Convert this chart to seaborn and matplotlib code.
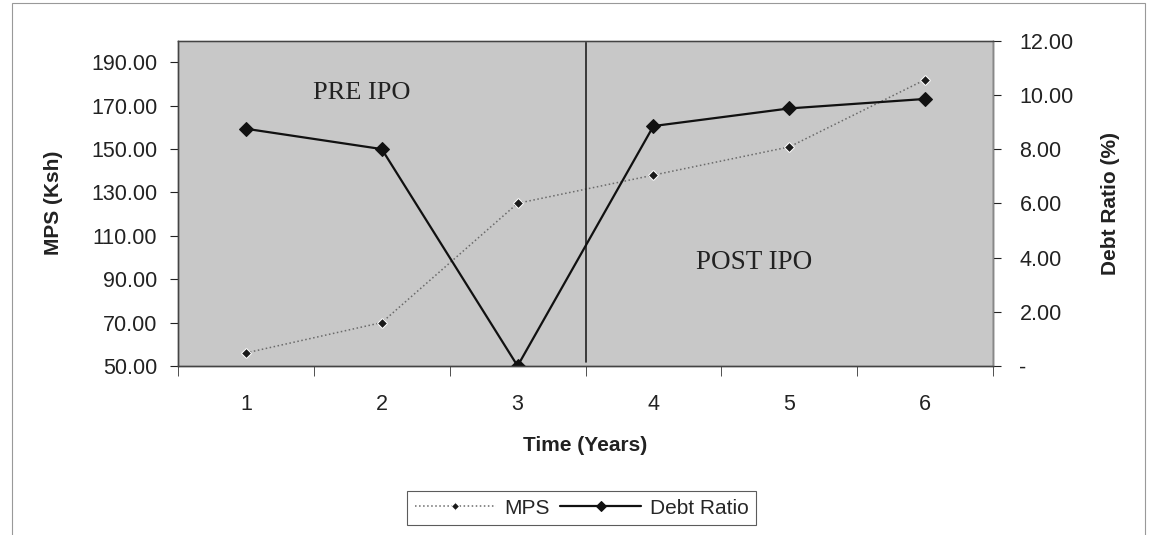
import matplotlib
matplotlib.use("Agg")
import matplotlib.pyplot as plt
import seaborn as sns
import pandas as pd
from matplotlib.ticker import FuncFormatter, MultipleLocator
from matplotlib.patches import Rectangle

# values
years = [1, 2, 3, 4, 5, 6]
mps = [56, 70, 125, 138, 151, 182]          # MPS (Ksh), left axis
debt_ratio = [8.75, 8.0, 0.0, 8.85, 9.5, 9.85]  # Debt Ratio (%), right axis

df = pd.DataFrame({"Year": years, "MPS": mps, "Debt Ratio": debt_ratio})

sns.set_style("white")
plt.rcParams['font.family'] = ['Liberation Sans', 'DejaVu Sans']

fig = plt.figure(figsize=(11.56, 5.35), dpi=100)
ax = fig.add_axes([0.154, 0.316, 0.705, 0.608])
ax2 = ax.twinx()

ax.set_facecolor('#c8c8c8')

# MPS - dotted line, small diamonds
sns.lineplot(data=df, x="Year", y="MPS", ax=ax, color='#6a6a6a', linestyle=':',
             linewidth=1.1, marker='D', markersize=5, markerfacecolor='#1a1a1a',
             markeredgecolor='white', markeredgewidth=0.7, label='MPS', legend=False)

# Debt Ratio - solid black line, diamonds
sns.lineplot(data=df, x="Year", y="Debt Ratio", ax=ax2, color='#111111',
             linewidth=1.6, marker='D', markersize=7, markerfacecolor='#111111',
             markeredgecolor='#111111', label='Debt Ratio', legend=False)

# IPO divider
ax.axvline(3.5, ymin=0.012, ymax=1.0, color='#222222', linewidth=1.2)

ax.text(1.85, 176, "PRE IPO", family=['Liberation Serif'], fontsize=19,
        ha='center', va='center', color='#222222')
ax.text(4.74, 97.5, "POST IPO", family=['Liberation Serif'], fontsize=19.5,
        ha='center', va='center', color='#222222')

# axes limits & ticks
ax.set_xlim(0.5, 6.5)
ax.set_ylim(50, 200)
ax2.set_ylim(0, 12)

ax.set_xticks(years)
ax.set_xticklabels([str(y) for y in years])
ax.xaxis.set_minor_locator(MultipleLocator(1, offset=0.5))
ax.tick_params(axis='x', which='major', length=0, pad=20, labelsize=15.5, colors='#222222')
ax.tick_params(axis='x', which='minor', length=7, direction='out', color='#333333', bottom=True)

ax.set_yticks([50, 70, 90, 110, 130, 150, 170, 190])
ax.yaxis.set_major_formatter(FuncFormatter(lambda v, p: f"{v:.2f}"))
ax.tick_params(axis='y', length=6, direction='out', left=True, labelsize=15.5,
               colors='#222222', pad=9)

ax2.set_yticks([0, 2, 4, 6, 8, 10, 12])
ax2.yaxis.set_major_formatter(FuncFormatter(lambda v, p: "-" if v == 0 else f"{v:.2f}"))
ax2.tick_params(axis='y', length=6, direction='out', right=True, labelsize=15.5,
                colors='#222222', pad=13)

ax.set_xlabel("Time (Years)", fontsize=15, fontweight='bold', labelpad=15, color='#222222')
ax.set_ylabel("MPS (Ksh)", fontsize=15, fontweight='bold', labelpad=20, color='#222222')
ax2.set_ylabel("Debt Ratio (%)", fontsize=15, fontweight='bold', labelpad=20, color='#222222')

for a in (ax, ax2):
    for s in a.spines.values():
        s.set_color('#444444')
        s.set_linewidth(1.0)
ax.spines['top'].set_color('#888888')
ax2.spines['right'].set_color('#888888')

# legend
h1, l1 = ax.get_legend_handles_labels()
h2, l2 = ax2.get_legend_handles_labels()
leg = fig.legend(h1 + h2, l1 + l2, loc='center', bbox_to_anchor=(0.503, 0.05),
                 ncol=2, fontsize=15, frameon=True, fancybox=False,
                 edgecolor='#333333', handlelength=3.9, columnspacing=0.5,
                 handletextpad=0.4, borderpad=0.35, markerscale=0.75)
leg.get_frame().set_linewidth(0.8)

# outer chart border
fig.patches.append(Rectangle((0.0104, -0.01), 0.98, 1.004, transform=fig.transFigure,
                             fill=False, edgecolor='#999999', linewidth=0.8))

fig.savefig("out.png", dpi=100, facecolor='white')
